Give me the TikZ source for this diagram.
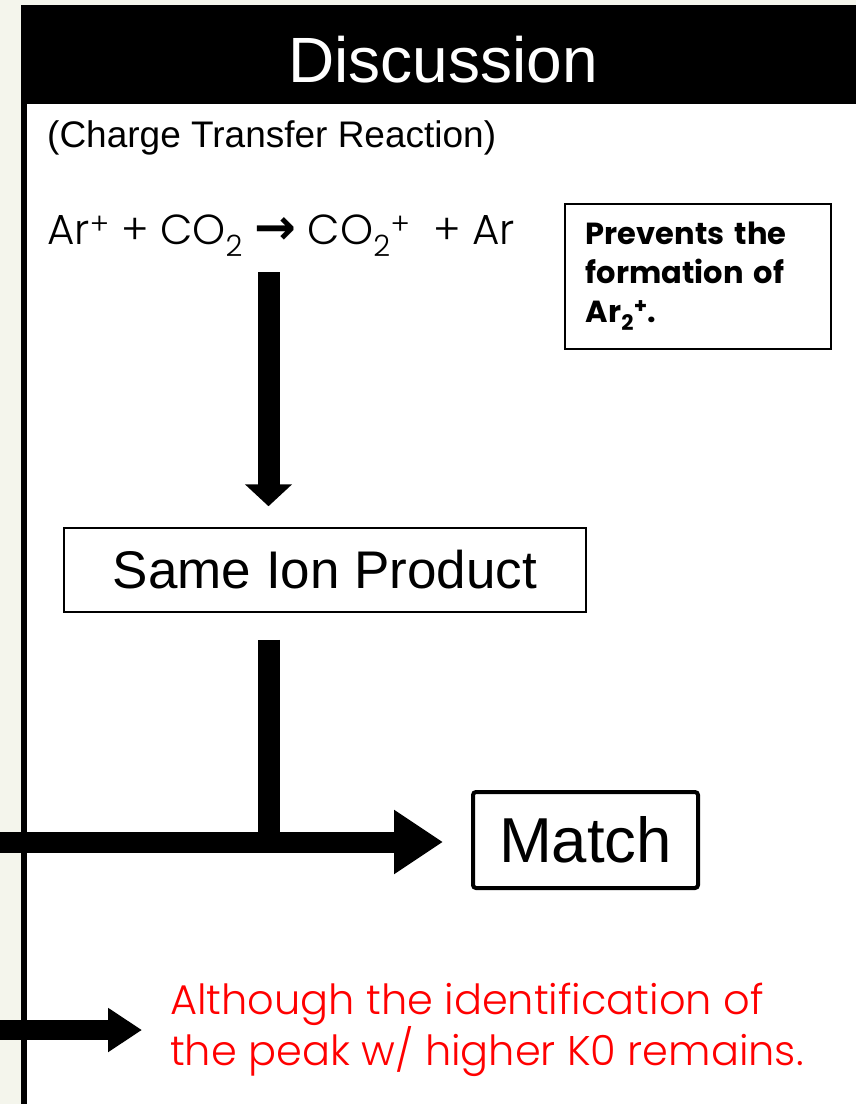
\documentclass[tikz,border=0pt]{standalone}
\usepackage{fontspec}
\setmainfont{Liberation Sans}
\newfontfamily\gothic{Poppins}[UprightFont=* Light,BoldFont=* Bold]
\newfontfamily\symbfont{DejaVu Sans}
\usetikzlibrary{arrows.meta,positioning}
\definecolor{slidebg}{HTML}{F4F5EC}

\begin{document}
\begin{tikzpicture}[x=1pt,y=-1pt]
    %styles
    \tikzstyle{thinbox}=[rectangle,draw,line width=1.5pt,inner sep=0pt]
    \tikzstyle{matchbox}=[rectangle,draw,line width=4pt,rounded corners=3pt,inner sep=0pt,font=\fontsize{63.5}{70}\selectfont]
    \tikzstyle{fat}=[line width=22pt]
    \tikzstyle{note}=[text=red,align=left,inner sep=0pt,font=\gothic\fontsize{41.5}{48}\selectfont]
    %slide frame
    \fill[slidebg] (0,0) rectangle (856,1104);
    \fill[black] (21,5) rectangle (856,104);
    \fill[black] (21,104) rectangle (27,1104);
    \fill[white] (27,104) rectangle (856,1104);
    \useasboundingbox (0,0) rectangle (856,1104);
    %nodes
    \node[text=white,anchor=base,font=\fontsize{64}{70}\selectfont] (title) at (443,82) {Discussion};
    \node[anchor=base west,inner sep=0pt,font=\fontsize{37}{40}\selectfont] (kind) at (47,147) {(Charge Transfer Reaction)};
    \node[anchor=base west,inner sep=0pt,font=\gothic\fontsize{42}{46}\selectfont] (react) at (47,244)
        {Ar\textsuperscript{+} + CO\textsubscript{2} {\symbfont\bfseries\fontsize{50}{46}\selectfont →} CO\textsubscript{2}\textsuperscript{+}\ \ + Ar};
    \node[thinbox,anchor=north west,minimum width=266pt,minimum height=145pt,text width=224pt,inner xsep=21pt,align=left,
        font=\gothic\bfseries\fontsize{30.5}{39}\selectfont] (prevent) at (564,203) {Prevents the\\formation of\\Ar\textsubscript{2}\textsuperscript{+}.};
    \node[thinbox,minimum width=522pt,minimum height=84pt,font=\fontsize{53}{60}\selectfont] (ion) at (325,570) {Same Ion Product};
    \node[matchbox,minimum width=225pt,minimum height=96pt] (match) at (585.5,840) {Match};
    \coordinate (eqfoot) at (268.5,272);
    \coordinate (split) at (268.5,842);
    \coordinate (edge) at (0,842);
    \coordinate (edge2) at (0,1030);
    \coordinate (tip2) at (142,1030);
    \node[note,right=28pt of tip2] (remain) {Although the identification of\\the peak w/ higher K0 remains.};

    %arrows
    \draw[fat,-{Triangle[width=46pt,length=22pt]},shorten >=21pt] (eqfoot) -- (ion.north -| eqfoot);
    \draw[fat] ([yshift=-27pt]ion.south -| split) -- (split);
    \draw[fat,line width=21pt,-{Triangle[width=61pt,length=49pt]},shorten >=28pt] (edge) -- (match.west |- edge);
    \draw[fat,line width=20pt,-{Triangle[width=42pt,length=34pt]}] (edge2) -- (tip2);
\end{tikzpicture}
\end{document}
